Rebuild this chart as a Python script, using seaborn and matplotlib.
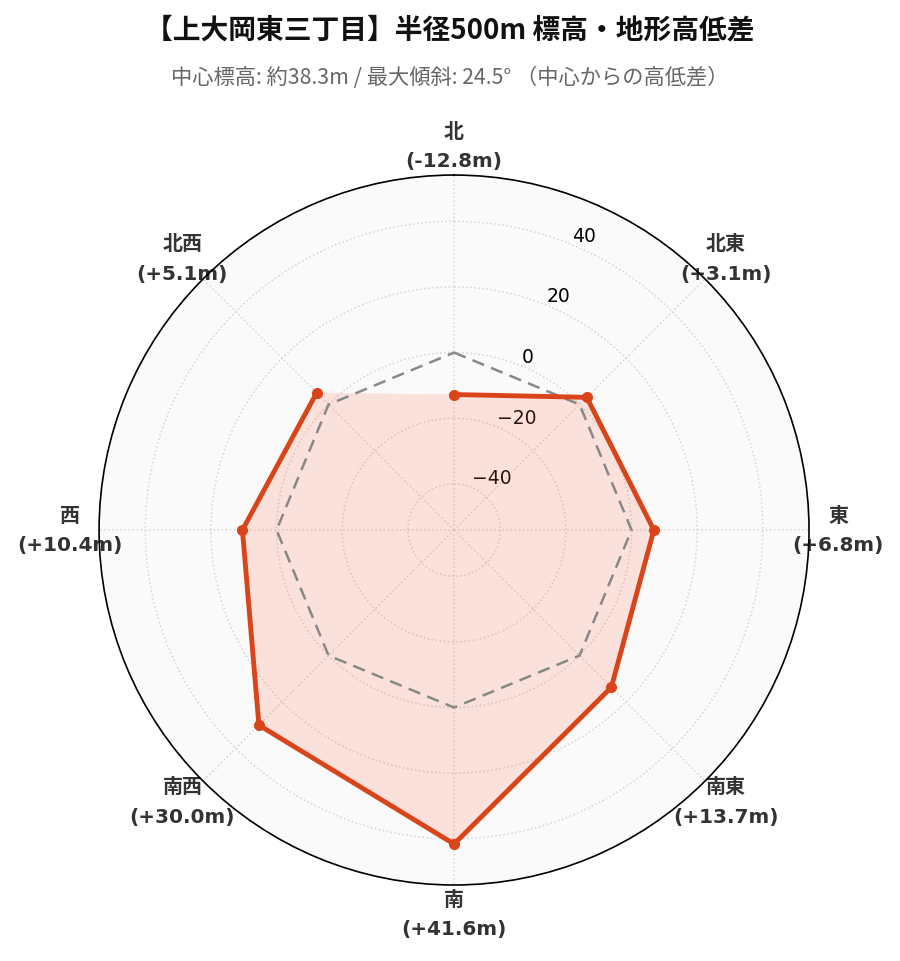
import numpy as np
import pandas as pd
import matplotlib
matplotlib.use("Agg")
import matplotlib.pyplot as plt
import seaborn as sns

# data
directions = ["北", "北東", "東", "南東", "南", "南西", "西", "北西"]
diffs = [-12.8, 3.1, 6.8, 13.7, 41.6, 30.0, 10.4, 5.1]
r_ticks = [-40, -20, 0, 20, 40]
title = "【上大岡東三丁目】半径500m 標高・地形高低差"
subtitle = "中心標高: 約38.3m / 最大傾斜: 24.5° （中心からの高低差）"

sns.set_theme(style="white")
plt.rcParams["font.family"] = ["Noto Sans CJK JP", "DejaVu Sans"]

angles = np.deg2rad(np.arange(len(directions)) * 360 / len(directions))
loop = pd.DataFrame({
    "theta": np.append(angles, angles[0]),
    "diff": diffs + [diffs[0]],
    "zero": 0.0,
})

fig = plt.figure(figsize=(9, 9.62), dpi=100)
ax = fig.add_axes([0.11, 0.079, 0.789, 0.738], projection="polar")
ax.set_theta_zero_location("N")
ax.set_theta_direction(-1)
ax.set_facecolor("#fafafa")

rmax = max(abs(v) for v in diffs) * 1.3
ax.set_ylim(-rmax, rmax)

ax.fill(loop["theta"], loop["diff"], color="#ff7050", alpha=0.18, lw=0, zorder=2)

# zero reference ring
ax.plot(loop["theta"], loop["zero"], color="#888888", lw=1.8, ls=(0, (5, 3)), zorder=3)

sns.lineplot(data=loop, x="theta", y="diff", sort=False, ax=ax, color="#d9441a",
             lw=3.5, marker="o", markersize=8, markeredgewidth=0, zorder=4)
ax.set_xlabel("")
ax.set_ylabel("")

ax.set_xticks(angles)
labels = [f"{d}\n({v:+.1f}m)" for d, v in zip(directions, diffs)]
ax.set_xticklabels(labels, fontsize=14.4, fontweight="bold", color="#333333",
                   family=["DejaVu Sans", "Noto Sans CJK JP"], linespacing=1.7)
ax.tick_params(axis="x", pad=8)

ax.set_yticks(r_ticks)
ax.set_yticklabels([f"{t:d}".replace("-", "\u2212") for t in r_ticks],
                   fontsize=13.5, color="black", family="DejaVu Sans")
ax.set_rlabel_position(22.5)

ax.grid(True, color="#d5d5d5", ls=":", lw=1.1)
ax.spines["polar"].set_color("black")
ax.spines["polar"].set_linewidth(1.2)

fig.text(0.5, 0.968, title, ha="center", va="center", fontsize=20,
         fontweight="bold", color="#111111")
fig.text(0.5, 0.919, subtitle, ha="center", va="center", fontsize=15.3, color="#666666")

fig.savefig("out.png", dpi=100)
